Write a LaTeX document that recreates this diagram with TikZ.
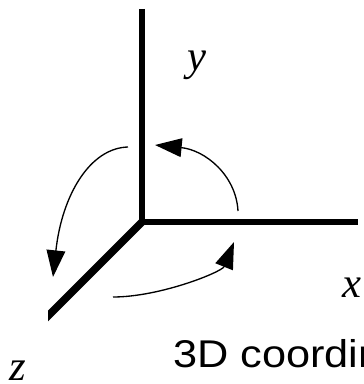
\documentclass[tikz,border=0pt]{standalone}
\usepackage{fontspec}
\newfontfamily\labelfont{Liberation Serif}
\newfontfamily\capfont{Liberation Sans}
\usetikzlibrary{arrows.meta}

\begin{document}
\begin{tikzpicture}[
  x=0.75pt, y=-0.75pt,
  axis/.style={line width=4.8pt},
  turn/.style={-{Triangle[length=20pt, width=14pt]}, line width=1pt},
  lbl/.style={font=\labelfont\itshape\fontsize{32}{36}\selectfont, inner sep=0pt, anchor=base, text depth=0pt},
  capt/.style={font=\capfont\fontsize{29}{34}\selectfont, inner sep=0pt, anchor=base west, xscale=1.12}
]
  \useasboundingbox (0,0) rectangle (363,384);
  \clip (0,0) rectangle (363,384);
  % axes
  \coordinate (o) at (142,222);
  \coordinate (ytop) at (142,9);
  \coordinate (xend) at (358,222);
  \coordinate (zend) at (40,324);
  \draw[axis] (ytop) -- (o) -- (xend);
  \begin{scope}
    \clip (48,0) rectangle (363,384);
    \draw[axis, line width=5.6pt] (o) -- (zend);
  \end{scope}
  % turning arrows
  \coordinate (r1) at (238,211);
  \coordinate (r1tip) at (155,145);
  \draw[turn] (r1) .. controls (236,175) and (205,150) .. (r1tip);
  \coordinate (r2) at (128,147);
  \coordinate (r2tip) at (53,277);
  \draw[turn] (r2) .. controls (90,148) and (62,195) .. (r2tip);
  \coordinate (r3) at (113,297);
  \coordinate (r3tip) at (234,242);
  \draw[turn] (r3) .. controls (160,297) and (222,272) .. (r3tip);
  % labels
  \node[lbl] (ylbl) at (197,71) {y};
  \node[lbl] (xlbl) at (352,297) {x};
  \node[lbl] (zlbl) at (18,380) {z};
  \node[capt] (caption) at (173,367) {3D coordin};
\end{tikzpicture}
\end{document}
